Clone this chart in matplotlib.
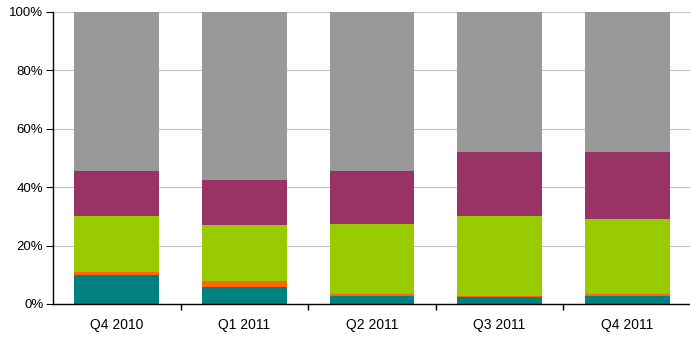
import matplotlib
matplotlib.use("Agg")
import matplotlib.pyplot as plt
import numpy as np

categories = ["Q4 2010", "Q1 2011", "Q2 2011", "Q3 2011", "Q4 2011"]
teal = [10.0, 5.7, 2.7, 2.5, 2.7]
orange = [1.1, 2.2, 0.6, 0.1, 0.6]
green = [19.0, 19.0, 24.2, 27.5, 25.8]
purple = [15.4, 15.6, 18.0, 21.9, 22.9]
gray = [54.5, 57.5, 54.5, 48.0, 48.0]

series = [teal, orange, green, purple, gray]
colors = ["#008080", "#FF6600", "#99CC00", "#993366", "#999999"]

plt.rcParams['font.family'] = ['Liberation Sans', 'DejaVu Sans']
fig = plt.figure(figsize=(6.9, 3.37), dpi=100)
ax = fig.add_axes([53/690, 1 - 304/337, (691-53)/690, (304-12)/337])

x = np.arange(len(categories))
bottom = np.zeros(len(categories))
for vals, c in zip(series, colors):
    ax.bar(x, vals, bottom=bottom, width=0.665, color=c, zorder=2)
    bottom += np.array(vals)

ax.set_xlim(-0.5, len(categories) - 0.5)
ax.set_ylim(0, 100)
ax.set_yticks([0, 20, 40, 60, 80, 100])
ax.set_yticklabels([f"{v}%" for v in [0, 20, 40, 60, 80, 100]])
ax.yaxis.grid(True, color="#c4c4c4", linewidth=0.8, zorder=0)
ax.set_axisbelow(True)

ax.set_xticks(x)
ax.set_xticklabels(categories)
ax.tick_params(axis='x', length=0, pad=10, labelsize=10)
ax.set_xticks(np.arange(0.5, len(categories) - 0.5), minor=True)
ax.tick_params(axis='x', which='minor', length=4, width=1, direction='out')
ax.tick_params(axis='y', length=5, width=0.8, labelsize=9.5, pad=2, colors='black')

for s in ["top", "right"]:
    ax.spines[s].set_visible(False)
ax.spines["left"].set_color("black")
ax.spines["bottom"].set_color("black")
ax.spines["left"].set_linewidth(1.0)
ax.spines["bottom"].set_linewidth(1.0)

fig.savefig("out.png", dpi=100)
